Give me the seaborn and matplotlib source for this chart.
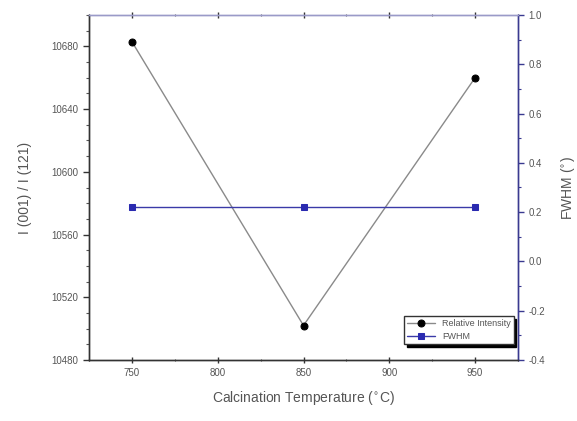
import matplotlib
matplotlib.use("Agg")
import matplotlib.pyplot as plt
import seaborn as sns
import numpy as np
import pandas as pd
from matplotlib.ticker import MultipleLocator

temperatures = [750, 850, 950]
relative_intensity = [10683, 10502, 10660]
fwhm = [0.22, 0.22, 0.22]

sns.set_style("ticks")
plt.rcParams['font.family'] = ['Liberation Sans', 'DejaVu Sans']

text_gray = "#555555"
navy = "#3a3a90"

fig = plt.figure(figsize=(5.77, 4.21), dpi=100)
ax = fig.add_axes([89/577, 61/421, (518-89)/577, (360-15)/421])

df = pd.DataFrame({"T": temperatures, "I": relative_intensity, "F": fwhm})

sns.lineplot(data=df, x="T", y="I", ax=ax, color="#8a8a8a", linewidth=1.0,
             marker="o", markersize=5, markerfacecolor="black",
             markeredgecolor="black", label="Relative Intensity", legend=False)
ax.set_xlim(725, 975)
ax.set_ylim(10480, 10700)
ax.xaxis.set_major_locator(MultipleLocator(50))
ax.xaxis.set_minor_locator(MultipleLocator(25))
ax.yaxis.set_major_locator(MultipleLocator(40))
ax.yaxis.set_minor_locator(MultipleLocator(10))
ax.set_xlabel("Calcination Temperature ($^{\\circ}$C)", fontsize=10, color=text_gray, labelpad=8)
ax.set_ylabel("I (001) / I (121)", fontsize=10, color=text_gray, labelpad=14)

ax2 = ax.twinx()
sns.lineplot(data=df, x="T", y="F", ax=ax2, color="#3a3aa8", linewidth=1.0,
             marker="s", markersize=4, markerfacecolor="#2a2ab0",
             markeredgecolor="#2a2ab0", label="FWHM", legend=False)
ax2.set_ylim(-0.4, 1.0)
ax2.yaxis.set_major_locator(MultipleLocator(0.2))
ax2.yaxis.set_minor_locator(MultipleLocator(0.1))
ax2.set_ylabel("FWHM ($^{\\circ}$)", fontsize=10, color=text_gray, labelpad=10)
ax2.yaxis.set_major_formatter(matplotlib.ticker.FuncFormatter(lambda v, p: f"{v:.1f}"))

for a in (ax, ax2):
    for s in a.spines.values():
        s.set_visible(True)
        s.set_linewidth(1.0)
for a in (ax, ax2):
    a.spines["left"].set_color("#333333")
    a.spines["bottom"].set_color("#333333")
    a.spines["right"].set_color(navy)
    a.spines["top"].set_color("#9a9ac8")

ax.tick_params(axis="both", which="major", direction="out", length=4, width=1,
               labelsize=7, labelcolor=text_gray, color="#333333")
ax.tick_params(axis="both", which="minor", direction="out", length=2, width=0.8, color="#555555")
ax.tick_params(axis="x", which="both", top=True, direction="inout")
ax.tick_params(axis="x", which="major", top=True, length=5)
ax2.tick_params(axis="y", which="major", direction="out", length=4, width=1,
                labelsize=7, labelcolor=text_gray, color=navy)
ax2.tick_params(axis="y", which="minor", direction="out", length=2, width=0.8, color=navy)

h1, l1 = ax.get_legend_handles_labels()
h2, l2 = ax2.get_legend_handles_labels()
leg = ax2.legend(h1 + h2, l1 + l2, loc="lower right", bbox_to_anchor=(0.99, 0.045),
                 fontsize=6.5, frameon=True, fancybox=False,
                 shadow={"color": "black", "alpha": 1.0},
                 edgecolor="#333333", framealpha=1, borderpad=0.35,
                 handlelength=3.0, labelspacing=0.45, borderaxespad=0)
for t in leg.get_texts():
    t.set_color(text_gray)

fig.savefig("out.png", dpi=100)
